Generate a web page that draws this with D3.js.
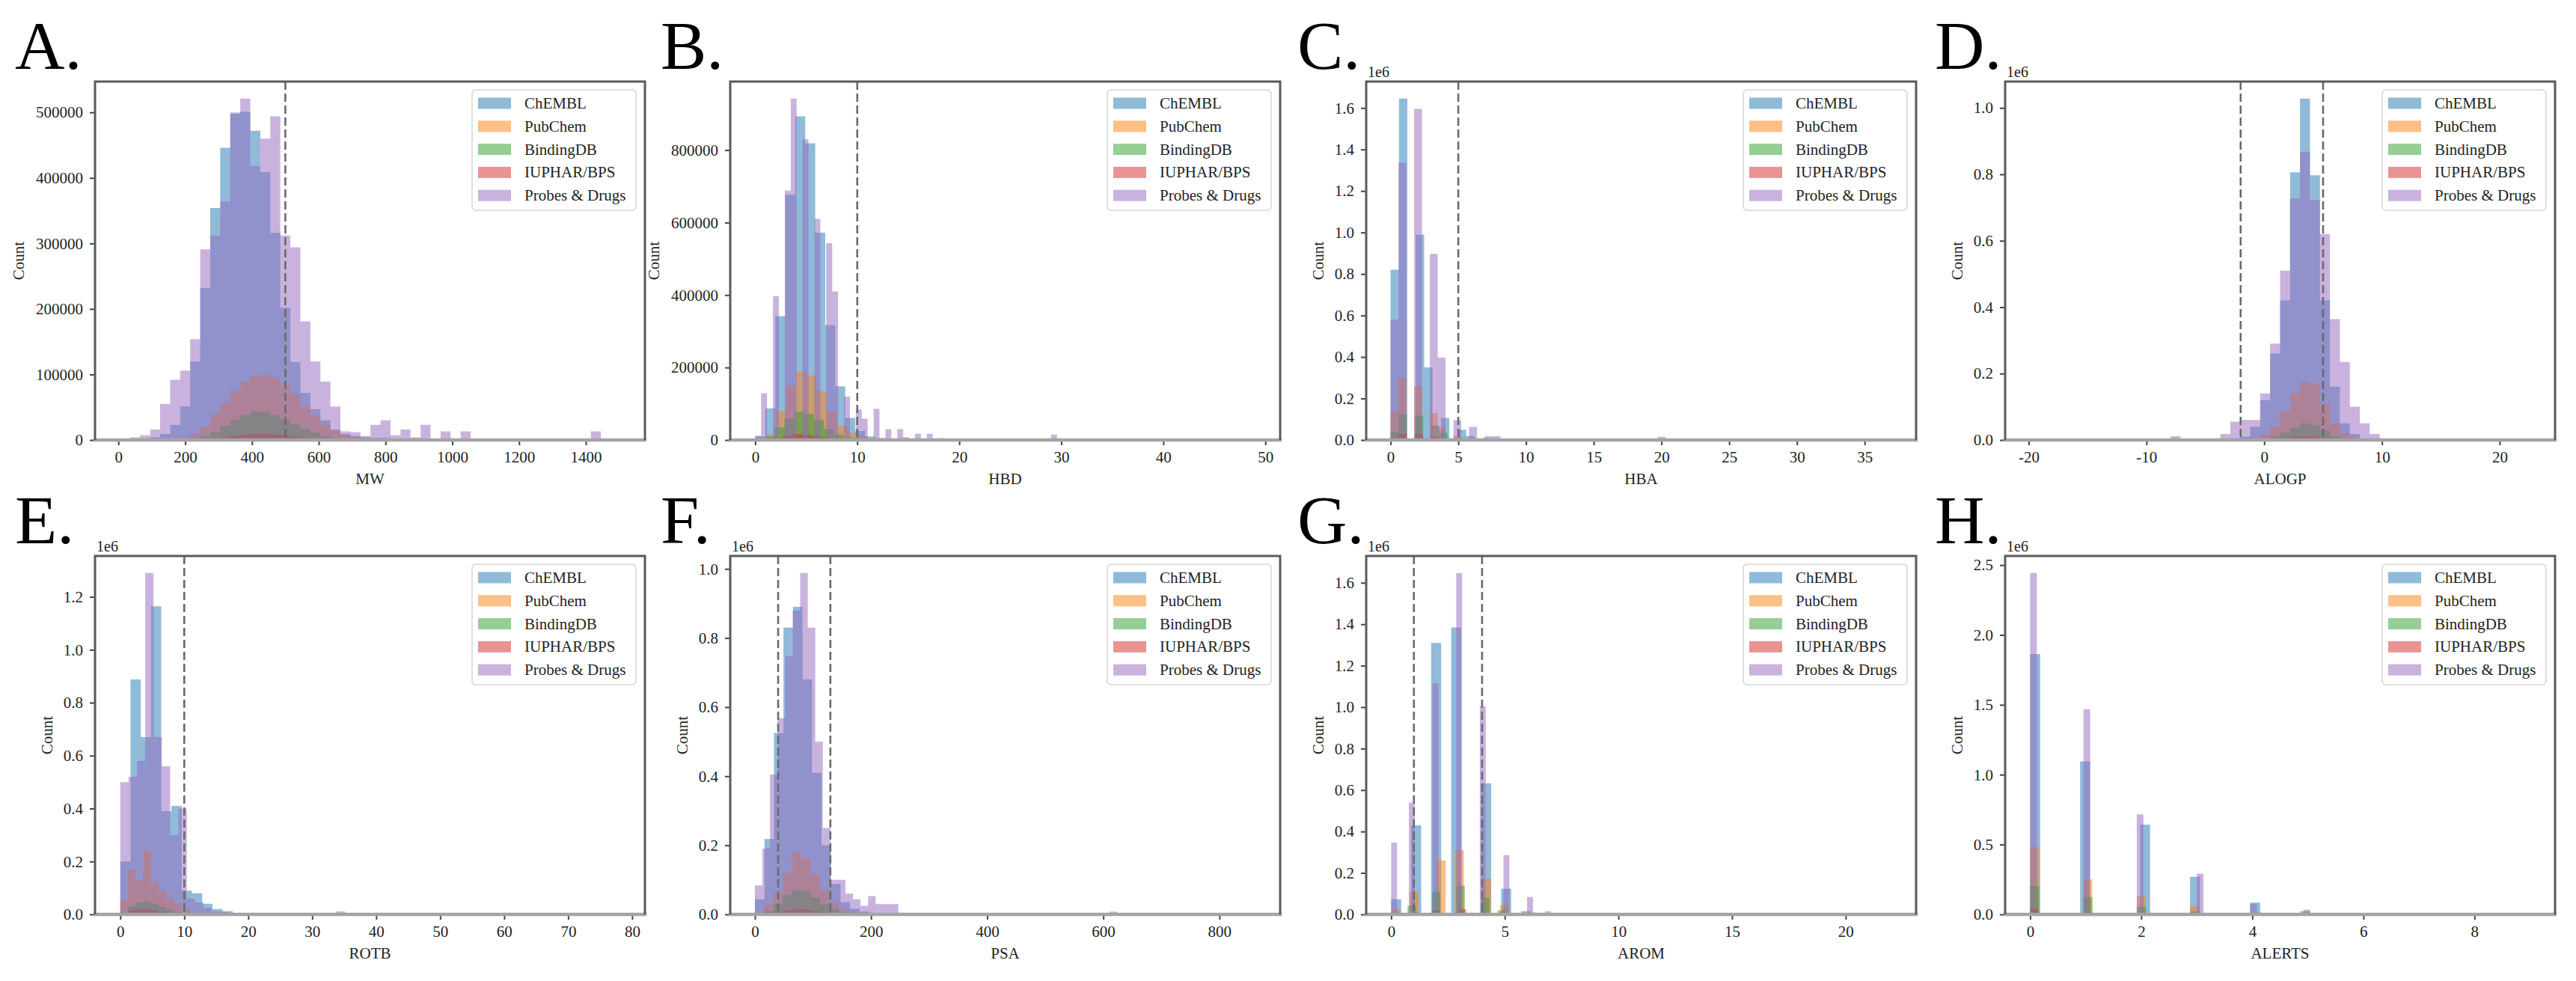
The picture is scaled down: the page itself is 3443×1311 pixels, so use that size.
<!DOCTYPE html>
<html>
<head>
<meta charset="utf-8">
<script src="https://cdn.jsdelivr.net/npm/d3@7"></script>
<style>
  body { margin: 0; background: #fff; }
  text { font-family: "Liberation Serif", "Times New Roman", serif; }
</style>
</head>
<body>
<script>
var sources = ["ChEMBL", "PubChem", "BindingDB", "IUPHAR/BPS", "Probes & Drugs"];
var colors = ["#1f77b4", "#ff7f0e", "#2ca02c", "#d62728", "#9467bd"];

// all counts are in thousands of compounds

// MW: counts per histogram bin (bin j covers start + j*width .. start + (j+1)*width)
var mwStart = [5, 5, 5, 5, 5];
var mwWidth = [30, 30, 30, 30, 30];
var mwChembl = [0,1,2,4,9,23,51,120,232,354,446,498,501,472,409,316,202,119,72,47,30,16,9,6,4,3,3,2,2,1,1,1,1,1,1,1,1,1,1,1,1,1,1,1,1,1,1,1,1,1];
var mwPubchem = [0,0,0,0,0,1,4,9,21,40,57,75,89,98,100,96,84,69,52,37,23,14,8,5,3,2,2,1,1,1];
var mwBindingdb = [0,0,0,0,0,0,0,0,5,12,22,31,38,44,43,38,31,24,17,11,6,3,2,1];
var mwIuphar = [0,0,0,0,0,0,0,0,1,2,4,6,8,9,9,8,7,5,3,2,1];
var mwProbes = [0,4,7,16,55,92,106,154,291,312,364,500,521,418,460,494,312,294,181,120,89,51,13,12,6,23,30,7,16,4,23,2,13,2,13,1,1,1,1,1,1,1,1,1,1,1,1,13];

// HBD: number of compounds per integer value, binned with 50 bins per source
var hbdWidth = [0.98, 1.0, 0.96, 0.9, 0.58];
var hbdChembl = [10,87,342,677,893,819,572,317,148,61,25,10,5,3,2,1,1,1,0.5,0.5,0.5];
var hbdPubchem = [3,15,80,150,188,178,135,80,40,20,10,4,2,1,1];
var hbdBindingdb = [1,10,35,60,78,72,55,30,15,7,3,1,1];
var hbdIuphar = [1,3,5,12,16,15,11,7,4,2,1];
var hbdProbes = [12,129,397,688,942,830,610,543,410,120,84,59,86,30,30,8,17,17,5,2,2,1,1,1,1,1,1,1,1,15];

// HBA
var hbaWidth = [0.62, 0.58, 0.6, 0.6, 0.58];
var hbaChembl = [820,1645,990,350,106,50,20,10,5,3,2,1,1,0.5,0.5];
var hbaPubchem = [140,300,260,130,60,20,10,4,2,1];
var hbaBindingdb = [40,125,118,70,35,10,5,2,1];
var hbaIuphar = [10,30,30,15,6,2,1];
var hbaProbes = [580,1335,1596,897,398,96,63,18,18,5,5,2,1,1,1,1,1,1,1,1,15];

// ALOGP: counts per bin
var alogpStart = [-19.8, -19.8, -19.8, -19.8, -19.8];
var alogpWidth = [0.846, 0.846, 0.846, 0.846, 0.846];
var alogpChembl = [0,0,0,0,0,0,0,0,0,0,0,0,0,0,0.5,0.5,0.5,0.5,0.5,2,5,10,40,120,260,420,806,1028,797,420,160,50,18,5,2,1];
var alogpPubchem = [0,0,0,0,0,0,0,0,0,0,0,0,0,0,0,0,0,0,0,0,0,0,5,15,40,85,140,175,170,110,50,20,8,3];
var alogpBindingdb = [0,0,0,0,0,0,0,0,0,0,0,0,0,0,0,0,0,0,0,0,0,0,0,3,10,22,38,50,45,30,12,4,1];
var alogpIuphar = [0,0,0,0,0,0,0,0,0,0,0,0,0,0,0,0,0,0,0,0,0,0,0,0,3,6,10,12,10,6,3,1];
var alogpProbes = [0,0,0,0,0,0,0,0,0,0,0,0,0,0,11,0,0,0,0,18,55,60,60,140,290,510,728,868,723,620,364,235,100,50,18];

// ROTB: counts per bin
var rotbStart = [0, 0, 0, 0, 0];
var rotbWidth = [1.6, 1.2, 1.2, 1.2, 1.3];
var rotbChembl = [200,888,670,1164,390,410,90,80,40,20,12,6,3,2,1,1,1,0.5];
var rotbPubchem = [55,170,130,240,120,90,60,40,20,10,5,3,2,1];
var rotbBindingdb = [10,30,45,50,40,28,18,10,5,3,1];
var rotbIuphar = [5,15,20,20,15,10,6,3,1];
var rotbProbes = [500,520,580,1290,670,560,300,400,60,45,25,12,10,5,3,2,1,1,0.5,0.5,0.5,0.5,0.5,0.5,0.5,0.5,11];

// PSA: counts per bin
var psaStart = [0, 0, 0, 0, 0];
var psaWidth = [16.4, 16, 16, 16, 13];
var psaChembl = [44,218,525,830,890,680,410,200,88,36,16,8,4,2,1,1,0.5,0.5];
var psaPubchem = [5,30,62,120,178,160,116,70,34,15,7,3,1];
var psaBindingdb = [2,10,30,55,70,68,50,30,15,6,2,1];
var psaIuphar = [1,3,8,12,15,14,10,6,3,1];
var psaProbes = [84,190,405,568,747,880,988,830,500,250,100,100,60,44,25,53,30,30,30,5,3,2,1,1,1,1,1,1,1,1,1,1,1,1,1,1,1,1,1,1,1,1,1,1,1,1,1,8];

// AROM: compounds per integer value
var aromWidth = [0.44, 0.4, 0.36, 0.3, 0.26];
var aromChembl = [73,430,1310,1385,633,124,15,3,1,0.5];
var aromPubchem = [26,107,260,310,173,45,10,2];
var aromBindingdb = [10,42,107,138,80,20,4,1];
var aromIuphar = [3,10,20,25,10,3,1];
var aromProbes = [347,540,1115,1647,1005,286,84,15,3,1,1,1,1,0.5];

// ALERTS: compounds per integer value
var alertsWidth = [0.18, 0.16, 0.16, 0.14, 0.12];
var alertsChembl = [1864,1095,643,269,85,23,5,1,0.5,0.2];
var alertsPubchem = [480,250,130,57,16,4];
var alertsBindingdb = [204,124,55,20,5,1];
var alertsIuphar = [40,16,5,2];
var alertsProbes = [2443,1469,716,292,73,34];

// axes
var letters = ["A.", "B.", "C.", "D.", "E.", "F.", "G.", "H."];
var props = ["MW", "HBD", "HBA", "ALOGP", "ROTB", "PSA", "AROM", "ALERTS"];
var xDomains = [[-70, 1577], [-2.45, 51.45], [-1.8, 38.8], [-22, 24.7], [-3.95, 82], [-42.5, 904.6], [-1.1, 23.1], [-0.45, 9.45]];
var xTicks = [[0,200,400,600,800,1000,1200,1400], [0,10,20,30,40,50], [0,5,10,15,20,25,30,35], [-20,-10,0,10,20],
              [0,10,20,30,40,50,60,70,80], [0,200,400,600,800], [0,5,10,15,20], [0,2,4,6,8]];
var yTicks = [[0,100000,200000,300000,400000,500000], [0,200000,400000,600000,800000],
              [0,2e5,4e5,6e5,8e5,1e6,1.2e6,1.4e6,1.6e6], [0,2e5,4e5,6e5,8e5,1e6],
              [0,2e5,4e5,6e5,8e5,1e6,1.2e6], [0,2e5,4e5,6e5,8e5,1e6],
              [0,2e5,4e5,6e5,8e5,1e6,1.2e6,1.4e6,1.6e6], [0,5e5,1e6,1.5e6,2e6,2.5e6]];
var yInMillions = [false, false, true, true, true, true, true, true];
var cutoffs = [[500], [10], [5], [-2, 5], [10], [40, 130], [1, 4], []];

var panels = [
  {kind: "bins", start: mwStart, width: mwWidth, counts: [mwChembl, mwPubchem, mwBindingdb, mwIuphar, mwProbes]},
  {kind: "int", width: hbdWidth, counts: [hbdChembl, hbdPubchem, hbdBindingdb, hbdIuphar, hbdProbes]},
  {kind: "int", width: hbaWidth, counts: [hbaChembl, hbaPubchem, hbaBindingdb, hbaIuphar, hbaProbes]},
  {kind: "bins", start: alogpStart, width: alogpWidth, counts: [alogpChembl, alogpPubchem, alogpBindingdb, alogpIuphar, alogpProbes]},
  {kind: "bins", start: rotbStart, width: rotbWidth, counts: [rotbChembl, rotbPubchem, rotbBindingdb, rotbIuphar, rotbProbes]},
  {kind: "bins", start: psaStart, width: psaWidth, counts: [psaChembl, psaPubchem, psaBindingdb, psaIuphar, psaProbes]},
  {kind: "int", width: aromWidth, counts: [aromChembl, aromPubchem, aromBindingdb, aromIuphar, aromProbes]},
  {kind: "int", width: alertsWidth, counts: [alertsChembl, alertsPubchem, alertsBindingdb, alertsIuphar, alertsProbes]}
];

// turn a source's counts into histogram bars {x0, x1, n}
function toBars(p, s) {
  var w = p.width[s], out = [];
  if (p.kind === "bins") {
    p.counts[s].forEach(function(c, j) {
      if (c > 0) out.push({x0: p.start[s] + j * w, x1: p.start[s] + (j + 1) * w, n: c * 1000});
    });
  } else {
    var byBin = d3.rollup(p.counts[s].map(function(c, i) { return {k: Math.floor(i / w + 1e-9), c: c}; }),
                          function(v) { return d3.sum(v, function(d) { return d.c; }); },
                          function(d) { return d.k; });
    byBin.forEach(function(c, k) {
      if (c > 0) out.push({x0: k * w, x1: (k + 1) * w, n: c * 1000});
    });
  }
  return out;
}

var W = 3443, H = 1311;
var colLeft = [127, 976, 1826, 2680], axW = 735;
var rowTop = [109, 743], axH = 479;
var letterX = [20, 883, 1734, 2586], letterBase = [92, 726];
var countLabelGap = [102, 102, 64, 64, 64, 64, 64, 64];
var fmtX = function(d) { return d < 0 ? "-" + Math.abs(d) : String(d); };

var svg = d3.select("body").append("svg").attr("width", W).attr("height", H);
svg.append("rect").attr("width", W).attr("height", H).attr("fill", "#fff");

panels.forEach(function(p, i) {
  var col = i % 4, row = Math.floor(i / 4);
  var left = colLeft[col], top = rowTop[row], bottom = top + axH, right = left + axW;
  var bars = sources.map(function(s, si) { return toBars(p, si); });
  var maxN = d3.max(bars, function(b) { return d3.max(b, function(d) { return d.n; }); });

  var x = d3.scaleLinear().domain(xDomains[i]).range([left, right]);
  var y = d3.scaleLinear().domain([0, maxN * 1.05]).range([bottom, top]);

  var g = svg.append("g");

  // histogram bars, one path per source so the 0.5 alpha is uniform
  bars.forEach(function(b, si) {
    var path = d3.path();
    b.forEach(function(d) {
      path.rect(x(d.x0), y(d.n), x(d.x1) - x(d.x0), y(0) - y(d.n));
    });
    g.append("path").attr("d", path.toString()).attr("fill", colors[si]).attr("fill-opacity", 0.5);
  });

  // cut-off lines
  cutoffs[i].forEach(function(c) {
    g.append("line").attr("x1", x(c)).attr("x2", x(c)).attr("y1", top).attr("y2", bottom)
      .attr("stroke", "#6a6a6a").attr("stroke-width", 2.6).attr("stroke-dasharray", "11,5");
  });

  // axes
  var fmtY = yInMillions[i] ? function(d) { return (d / 1e6).toFixed(1); } : d3.format("d");
  var xa = g.append("g").attr("transform", "translate(0," + bottom + ")")
    .call(d3.axisBottom(x).tickValues(xTicks[i]).tickSize(7).tickPadding(8).tickFormat(fmtX));
  var ya = g.append("g").attr("transform", "translate(" + left + ",0)")
    .call(d3.axisLeft(y).tickValues(yTicks[i]).tickSize(7).tickPadding(9).tickFormat(fmtY));
  [xa, ya].forEach(function(a) {
    a.select(".domain").remove();
    a.selectAll("line").attr("stroke", "#444").attr("stroke-width", 2);
    a.selectAll("text").attr("font-size", 21).attr("fill", "#222").attr("font-family", "Liberation Serif");
  });

  // spines
  g.append("line").attr("x1", left - 2).attr("x2", right + 2).attr("y1", bottom).attr("y2", bottom)
    .attr("stroke", "#a4a4a4").attr("stroke-width", 4.5);
  g.append("path").attr("d", "M" + left + "," + bottom + "V" + top + "H" + right + "V" + bottom)
    .attr("fill", "none").attr("stroke", "#5a5a5a").attr("stroke-width", 3);

  if (yInMillions[i]) {
    g.append("text").attr("x", left + 2).attr("y", top - 6).attr("font-size", 20).attr("fill", "#222").text("1e6");
  }

  // axis labels
  g.append("text").attr("x", (left + right) / 2).attr("y", bottom + 59).attr("text-anchor", "middle")
    .attr("font-size", 21).attr("fill", "#222").text(props[i]);
  g.append("text").attr("transform", "translate(" + (left - countLabelGap[i]) + "," + (top + axH / 2) + ") rotate(-90)")
    .attr("text-anchor", "middle").attr("dy", "0.35em").attr("font-size", 21).attr("fill", "#222").text("Count");

  // legend
  var legW = 219, legH = 161, lx = right - 12 - legW, ly = top + 11;
  var leg = g.append("g").attr("transform", "translate(" + lx + "," + ly + ")");
  leg.append("rect").attr("width", legW).attr("height", legH).attr("rx", 5)
    .attr("fill", "#fff").attr("fill-opacity", 0.8).attr("stroke", "#d6d6d6").attr("stroke-width", 1.5);
  sources.forEach(function(s, si) {
    var cy = 18 + si * 30.8;
    leg.append("rect").attr("x", 8).attr("y", cy - 7.5).attr("width", 44).attr("height", 15)
      .attr("fill", colors[si]).attr("fill-opacity", 0.5);
    leg.append("text").attr("x", 70).attr("y", cy + 7).attr("font-size", 21).attr("fill", "#222").text(s);
  });

  // panel letter
  svg.append("text").attr("x", letterX[col]).attr("y", letterBase[row]).attr("font-size", 92)
    .attr("fill", "#000").text(letters[i]);
});
</script>
</body>
</html>
